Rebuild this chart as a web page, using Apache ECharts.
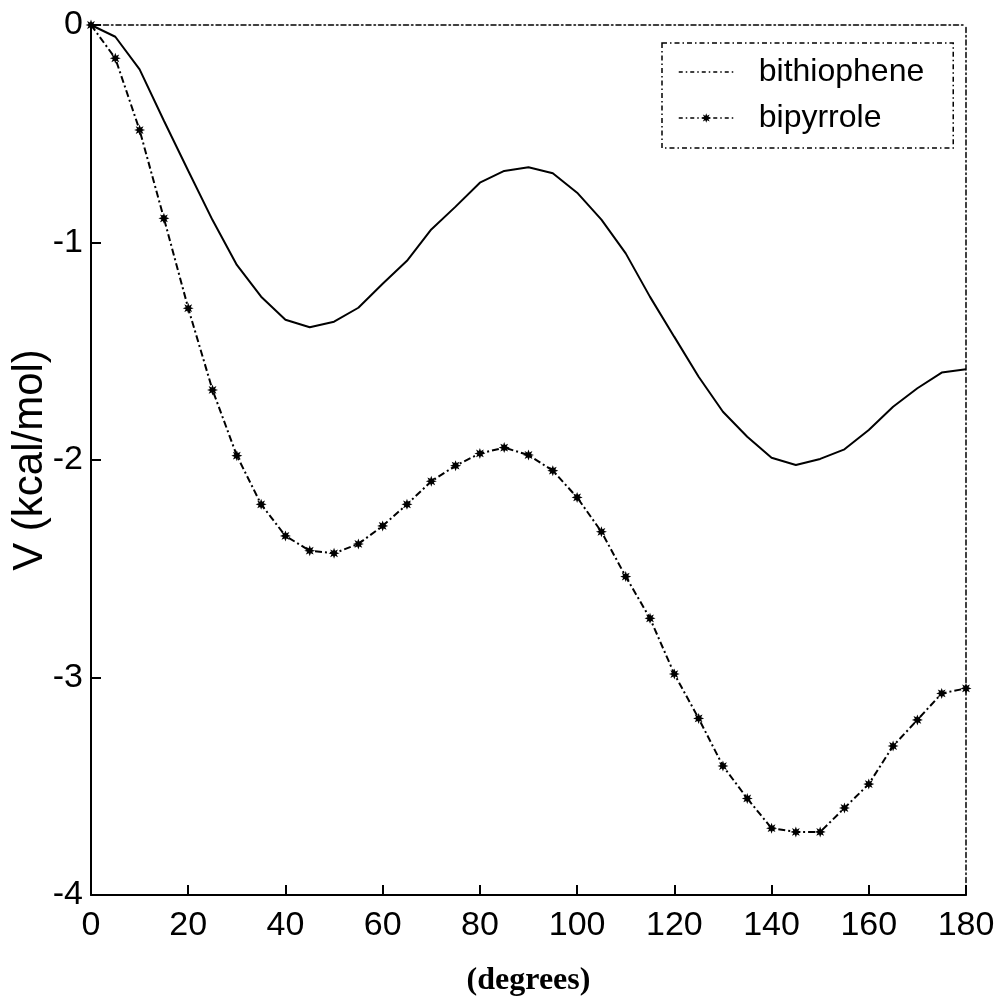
<!DOCTYPE html>
<html>
<head>
<meta charset="utf-8">
<script src="https://cdn.jsdelivr.net/npm/echarts@6/dist/echarts.min.js"></script>
<style>
html,body{margin:0;padding:0;background:#fff;}
#chart{width:1000px;height:1001px;}
</style>
</head>
<body>
<div id="chart"></div>
<script>
// ---- data ----
const angles = [0,5,10,15,20,25,30,35,40,45,50,55,60,65,70,75,80,85,90,95,100,105,110,115,120,125,130,135,140,145,150,155,160,165,170,175,180];
const bithiophene = [0,-0.054,-0.204,-0.44,-0.67,-0.897,-1.103,-1.249,-1.355,-1.39,-1.364,-1.3,-1.19,-1.084,-0.94,-0.835,-0.725,-0.671,-0.654,-0.682,-0.771,-0.895,-1.05,-1.25,-1.434,-1.617,-1.778,-1.893,-1.99,-2.023,-1.995,-1.951,-1.862,-1.755,-1.67,-1.598,-1.583];
const bipyrrole = [0,-0.153,-0.483,-0.889,-1.302,-1.678,-1.98,-2.204,-2.349,-2.417,-2.429,-2.386,-2.303,-2.204,-2.098,-2.026,-1.97,-1.943,-1.977,-2.049,-2.172,-2.33,-2.536,-2.728,-2.984,-3.188,-3.407,-3.556,-3.693,-3.71,-3.71,-3.6,-3.49,-3.315,-3.195,-3.073,-3.05];
const seriesNames = ['bithiophene','bipyrrole'];
const xTicks = {min:0, max:180, interval:20};
const yTicks = {min:-4, max:0, interval:1};

// ---- styling ----
const FONT = "'Liberation Sans', Arial, sans-serif";
const DASHDOT = [7,3,2,3];
function starPath(){
  let d = '';
  for (let i=0;i<16;i++){
    const a = Math.PI*i/8;
    const r = (i%2===0)?1:0.5;
    const x = (Math.cos(a)*r*10+10).toFixed(2), y = (Math.sin(a)*r*10+10).toFixed(2);
    d += (i===0?'M':'L')+x+' '+y+' ';
  }
  return 'path://'+d+'Z';
}
const STAR = starPath();

const chart = echarts.init(document.getElementById('chart'), null, {renderer:'canvas'});
const option = {
  animation:false,
  backgroundColor:'#fff',
  grid:{left:91, right:34, top:25, bottom:106, containLabel:false, outerBoundsMode:'none'},
  legend:{
    orient:'vertical', left:662, top:43,
    padding:[13,29,14,16],
    itemWidth:55, itemHeight:12, itemGap:14,
    borderColor:'#000', borderWidth:1.5, borderType:[5,3,1.5,3],
    backgroundColor:'#fff',
    textStyle:{fontSize:32, fontFamily:FONT, color:'#000', padding:[0,0,0,20], lineHeight:32},
    data:[
      {name:seriesNames[0], itemStyle:{color:'rgba(0,0,0,0)', borderWidth:0}, lineStyle:{type:[4,3,1.5,3], width:1.5, color:'#000'}},
      {name:seriesNames[1], lineStyle:{type:[4,3,1.5,3], width:1.5, color:'#000'}}
    ]
  },
  xAxis:[{
    type:'value', min:xTicks.min, max:xTicks.max, interval:xTicks.interval,
    position:'bottom',
    axisLine:{show:true, onZero:false, lineStyle:{color:'#000', width:2}},
    axisTick:{show:true, inside:true, length:10, lineStyle:{color:'#000', width:2}},
    axisLabel:{fontSize:34, fontFamily:FONT, color:'#000', margin:14},
    splitLine:{show:false},
    name:'(degrees)', nameLocation:'middle', nameGap:70, nameMoveOverlap:false,
    nameTextStyle:{fontSize:32, fontFamily:"'Liberation Serif', 'Times New Roman', serif", fontWeight:'bold', color:'#000'}
  },{
    type:'value', min:xTicks.min, max:xTicks.max, interval:xTicks.interval,
    position:'top',
    axisLine:{show:true, onZero:false, lineStyle:{color:'#000', width:1.5, type:[5,3,1.5,3]}},
    axisTick:{show:false}, axisLabel:{show:false}, splitLine:{show:false}
  }],
  yAxis:[{
    type:'value', min:yTicks.min, max:yTicks.max, interval:yTicks.interval,
    position:'left',
    axisLine:{show:true, onZero:false, lineStyle:{color:'#000', width:2}},
    axisTick:{show:true, inside:true, length:10, lineStyle:{color:'#000', width:2}},
    axisLabel:{fontSize:34, fontFamily:FONT, color:'#000', margin:8},
    splitLine:{show:false},
    name:'V (kcal/mol)', nameLocation:'middle', nameGap:40, nameRotate:90, nameMoveOverlap:false,
    nameTextStyle:{fontSize:42, fontFamily:FONT, color:'#000'}
  },{
    type:'value', min:yTicks.min, max:yTicks.max, interval:yTicks.interval,
    position:'right',
    axisLine:{show:true, onZero:false, lineStyle:{color:'#000', width:1.5, type:[5,3,1.5,3]}},
    axisTick:{show:false}, axisLabel:{show:false}, splitLine:{show:false}
  }],
  series:[{
    name:seriesNames[0], type:'line', xAxisIndex:0, yAxisIndex:0,
    data:angles.map((a,i)=>[a,bithiophene[i]]),
    symbol:'none', smooth:false,
    lineStyle:{color:'#000', width:2, type:'solid'},
    itemStyle:{color:'#000'}, z:3
  },{
    name:seriesNames[1], type:'line', xAxisIndex:0, yAxisIndex:0,
    data:angles.map((a,i)=>[a,bipyrrole[i]]),
    symbol:STAR, symbolSize:11, showSymbol:true, showAllSymbol:true, smooth:false,
    lineStyle:{color:'#000', width:2, type:DASHDOT},
    itemStyle:{color:'#000'}, z:3
  }]
};
chart.setOption(option);
</script>
</body>
</html>
